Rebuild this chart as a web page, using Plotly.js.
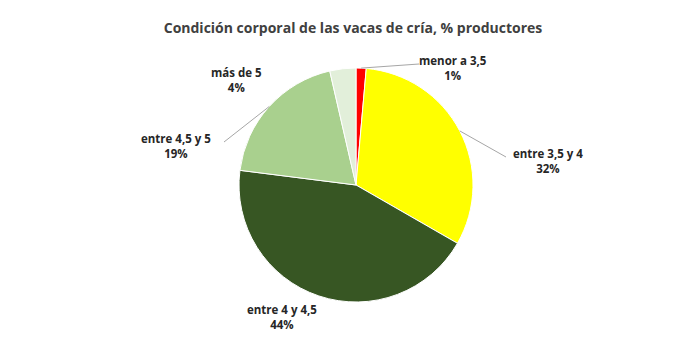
<!DOCTYPE html>
<html><head><meta charset="utf-8">
<script src="https://cdn.plot.ly/plotly-3.0.1.min.js"></script>
<style>html,body{margin:0;padding:0;background:#fff}#c{width:680px;height:344px}</style>
</head><body><div id="c"></div>
<script>
const categories = ["menor a 3,5", "entre 3,5 y 4", "entre 4 y 4,5", "entre 4,5 y 5", "más de 5"];
const values = [1.4, 31.9, 43.7, 19.4, 3.6];
const pctLabels = ["1%", "32%", "44%", "19%", "4%"];
const colors = ["#FF0000", "#FFFF00", "#375623", "#A9D08E", "#E2EFDA"];

const W = 680, H = 344;
const cx = 356, cy = 185, R = 117;
// label anchor positions (pixels)
const labelPos = [[453, 68], [548, 161], [282, 317], [176, 146], [236, 80]];
const lineEnds = [[419, 64], [506, 157], null, [224, 142], null];

const px = x => x / W, py = y => 1 - y / H;
const total = values.reduce((a, b) => a + b, 0);
let cum = 0;
const annotations = [], shapes = [];
values.forEach((v, i) => {
  const mid = (cum + v / 2) / total * 2 * Math.PI;
  cum += v;
  const ex = cx + R * Math.sin(mid), ey = cy - R * Math.cos(mid);
  annotations.push({
    x: px(labelPos[i][0]), y: py(labelPos[i][1]), xref: 'paper', yref: 'paper',
    text: '<b>' + categories[i] + '</b><br><b>' + pctLabels[i] + '</b>',
    showarrow: false, font: {family: 'Open Sans, sans-serif', size: 11.5, color: '#262626'},
    align: 'center', xanchor: 'center', yanchor: 'middle'
  });
  if (lineEnds[i]) {
    shapes.push({type: 'line', xref: 'paper', yref: 'paper',
      x0: px(ex), y0: py(ey), x1: px(lineEnds[i][0]), y1: py(lineEnds[i][1]),
      line: {color: '#A6A6A6', width: 1}});
  }
});

const trace = {
  type: 'pie', labels: categories, values: values, sort: false,
  direction: 'clockwise', rotation: 0,
  marker: {colors: colors, line: {color: '#FFFFFF', width: 1}},
  textinfo: 'none', hoverinfo: 'label+percent',
  domain: {x: [px(cx - R), px(cx + R)], y: [py(cy + R), py(cy - R)]}
};

const layout = {
  width: W, height: H, margin: {l: 0, r: 0, t: 0, b: 0},
  paper_bgcolor: '#FFFFFF', showlegend: false,
  title: {text: '<b>Condición corporal de las vacas de cría, % productores</b>',
    x: 353 / W, xanchor: 'center', y: py(28), yanchor: 'middle', yref: 'paper',
    font: {family: 'Open Sans, sans-serif', size: 14, color: '#404040'}},
  annotations: annotations, shapes: shapes
};
Plotly.newPlot('c', [trace], layout, {staticPlot: true});
</script></body></html>
